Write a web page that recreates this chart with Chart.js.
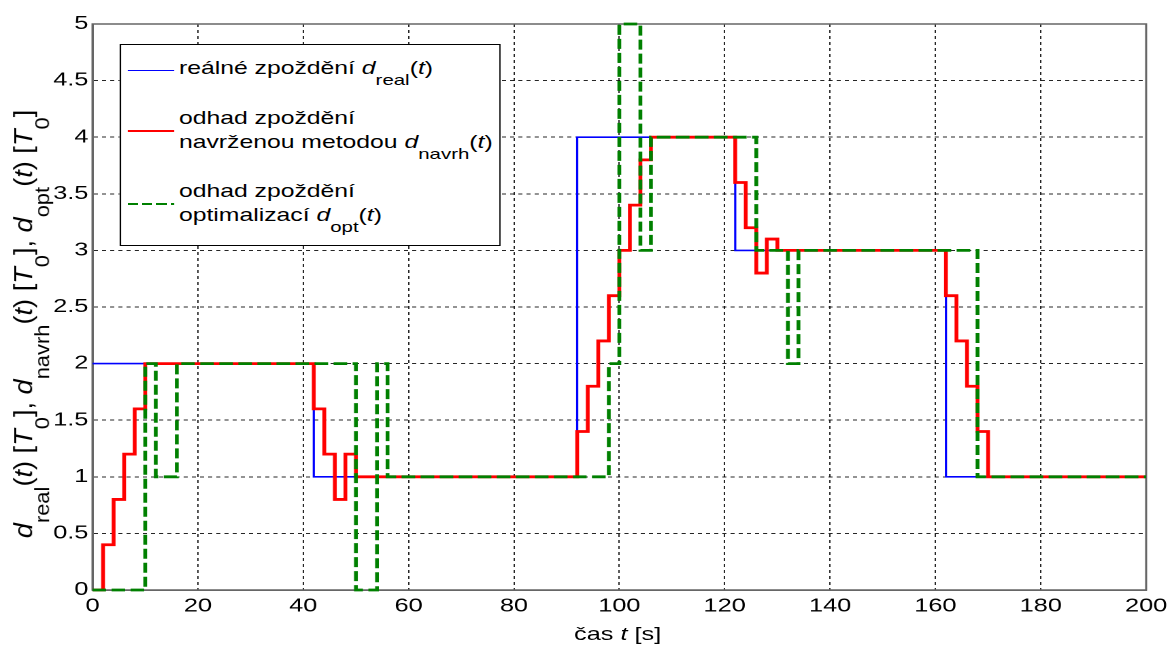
<!DOCTYPE html>
<html>
<head>
<meta charset="utf-8">
<script src="https://cdn.jsdelivr.net/npm/chart.js@4"></script>
<style>
  html, body { margin: 0; padding: 0; background: #fff; overflow: hidden; }
  /* graf se kreslí užší a pak se roztáhne do šířky okna */
  #plocha { position: absolute; left: 0; top: 0; width: 863px; height: 648px;
            transform: scaleX(1.3604); transform-origin: 0 0;
            font-family: 'Liberation Sans', Arial, sans-serif; color: #000; }
  #plocha canvas { position: absolute; left: 0; top: 0; }
  .legenda { position: absolute; left: 87.5px; top: 44px; width: 280px; height: 202px;
             box-sizing: border-box; border: 1px solid #000; background: #fff; }
  .polozka { position: absolute; left: 43px; font-size: 18.2px; line-height: 24px; white-space: nowrap; }
  .cara { position: absolute; left: 5px; width: 34px; }
  .ix { font-style: italic; }
  .dolni { font-size: 15px; position: relative; top: 11.5px; }
  /* svislý popisek: natažení podél textu, pak otočení */
  .ynazev { position: absolute; left: -282.4px; top: 312px; width: 600px; height: 24px;
            line-height: 24px; text-align: center; font-size: 18.6px; white-space: nowrap;
            transform: rotate(-90deg) scaleX(1.46); }
  .xnazev { position: absolute; left: 254px; top: 622px; width: 400px; line-height: 24px;
            text-align: center; font-size: 18.6px; white-space: nowrap; }
</style>
</head>
<body>
<div id="plocha">
  <canvas id="myChart"></canvas>

  <div class="legenda">
    <div class="cara" style="top:25px; height:0; border-top:1.5px solid #0000ff;"></div>
    <div class="polozka" style="top:10.6px;">reálné zpoždění <span class="ix">d</span><span class="dolni">real</span>(<span class="ix">t</span>)</div>

    <div class="cara" style="top:84.6px; height:2.8px; background:#ff0000;"></div>
    <div class="polozka" style="top:60.6px;">odhad zpoždění<br>navrženou metodou <span class="ix">d</span><span class="dolni">navrh</span>(<span class="ix">t</span>)</div>

    <div class="cara" style="top:157.6px; height:2.8px; background:repeating-linear-gradient(to right, #008000 0 7.5px, transparent 7.5px 10.5px);"></div>
    <div class="polozka" style="top:133.6px;">odhad zpoždění<br>optimalizací <span class="ix">d</span><span class="dolni">opt</span>(<span class="ix">t</span>)</div>
  </div>

  <div class="ynazev"><span class="ix">d</span><span class="dolni">real</span>(<span class="ix">t</span>) [<span class="ix">T</span><span class="dolni">0</span>], <span class="ix">d</span><span class="dolni">navrh</span>(<span class="ix">t</span>) [<span class="ix">T</span><span class="dolni">0</span>], <span class="ix">d</span><span class="dolni">opt</span>(<span class="ix">t</span>) [<span class="ix">T</span><span class="dolni">0</span>]</div>
  <div class="xnazev">čas <span class="ix">t</span> [s]</div>
</div>

<script>
// časy změn [s] a hodnoty zpoždění [T0], hodnota platí od daného času dál
const casReal = [0, 42, 92, 122, 162, 200];
const zpozdeniReal = [2, 1, 4, 3, 1, 1];

const casNavrh = [0, 2, 4, 6, 8, 10, 42, 44, 46, 48, 50, 92, 94, 96, 98, 100, 102, 104, 106,
                  122, 124, 126, 128, 130, 162, 164, 166, 168, 170, 200];
const zpozdeniNavrh = [0, 0.4, 0.8, 1.2, 1.6, 2, 1.6, 1.2, 0.8, 1.2, 1, 1.4, 1.8, 2.2, 2.6, 3, 3.4, 3.8, 4,
                       3.6, 3.2, 2.8, 3.1, 3, 2.6, 2.2, 1.8, 1.4, 1, 1];

const casOpt = [0, 10, 12, 16, 50, 54, 56, 98, 100, 104, 106, 126, 132, 134, 168, 200];
const zpozdeniOpt = [0, 2, 1, 2, 0, 2, 1, 2, 5, 3, 4, 3, 2, 3, 1, 1];

// popisky os
const casTicks = [0, 20, 40, 60, 80, 100, 120, 140, 160, 180, 200];
const zpozdeniTicks = [0, 0.5, 1, 1.5, 2, 2.5, 3, 3.5, 4, 4.5, 5];

const body = (xs, ys) => xs.map((x, i) => ({ x: x, y: ys[i] }));

const pismo = { family: "'Liberation Sans', Arial, sans-serif", size: 18.6 };

// ramecek kolem celé oblasti grafu
const ramecek = {
  id: 'ramecek',
  beforeDatasetsDraw(chart) {
    const { ctx, chartArea: a } = chart;
    ctx.save();
    ctx.strokeStyle = '#666';
    ctx.lineWidth = 1.5;
    ctx.strokeRect(a.left, a.top, a.right - a.left, a.bottom - a.top);
    ctx.restore();
  }
};

const ctx = document.getElementById('myChart').getContext('2d');
const myChart = new Chart(ctx, {
  type: 'line',
  data: {
    datasets: [{
      label: 'reálné zpoždění',
      data: body(casReal, zpozdeniReal),
      borderColor: '#0000ff',
      borderWidth: 1.6,
      stepped: 'before',
      order: 3
    }, {
      label: 'odhad zpoždění navrženou metodou',
      data: body(casNavrh, zpozdeniNavrh),
      borderColor: '#ff0000',
      borderWidth: 2.8,
      stepped: 'before',
      order: 2
    }, {
      label: 'odhad zpoždění optimalizací',
      data: body(casOpt, zpozdeniOpt),
      borderColor: '#008000',
      borderWidth: 2.8,
      borderDash: [10, 4],
      stepped: 'before',
      order: 1
    }]
  },
  options: {
    responsive: true,
    maintainAspectRatio: false,
    devicePixelRatio: 2,
    animation: false,
    layout: { padding: { top: 24, right: 15.6, left: 0, bottom: 0 } },
    elements: {
      point: { radius: 0, hoverRadius: 0 },
      line: { borderJoinStyle: 'miter', fill: false }
    },
    datasets: { line: { clip: false } },
    plugins: {
      legend: { display: false },
      tooltip: { enabled: false }
    },
    scales: {
      x: {
        type: 'linear',
        min: 0,
        max: 200,
        afterBuildTicks: (s) => { s.ticks = casTicks.map(v => ({ value: v })); },
        afterFit: (s) => { s.height = 58; },
        ticks: { font: pismo, color: '#000', padding: 5, maxRotation: 0,
                 callback: (v) => String(v) },
        grid: { color: 'rgba(0,0,0,0.85)', lineWidth: 1, drawTicks: false },
        border: { display: true, color: '#666', width: 1.5, dash: [3, 3] }
      },
      y: {
        min: 0,
        max: 5,
        afterBuildTicks: (s) => { s.ticks = zpozdeniTicks.map(v => ({ value: v })); },
        afterFit: (s) => { s.width = 68; },
        ticks: { font: pismo, color: '#000', padding: 3,
                 callback: (v) => String(v) },
        grid: { color: 'rgba(0,0,0,0.85)', lineWidth: 1, drawTicks: false },
        border: { display: true, color: '#666', width: 1.5, dash: [3, 3] }
      }
    }
  },
  plugins: [ramecek]
});
</script>
</body>
</html>
